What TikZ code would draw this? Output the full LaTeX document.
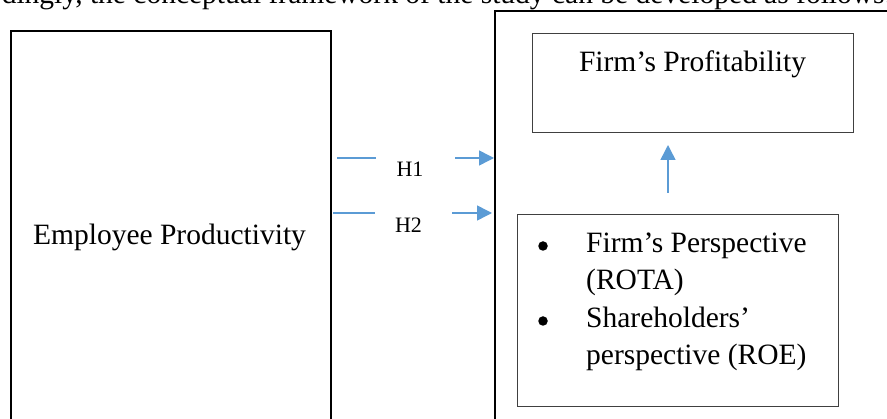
\documentclass[tikz,border=0pt]{standalone}
\usepackage{fontspec}
\setmainfont{Liberation Serif}
\usetikzlibrary{arrows.meta}
\definecolor{arrowblue}{RGB}{91,155,213}
\begin{document}
\begin{tikzpicture}[x=1pt,y=-1pt,
  thickbox/.style={draw=black, line width=2pt, inner sep=0pt},
  thinbox/.style={draw=black!75, line width=1.4pt, inner sep=0pt},
  bigtext/.style={font=\fontsize{29.5}{36}\selectfont, inner sep=0pt},
  hlabel/.style={font=\fontsize{22}{26}\selectfont, inner sep=0pt},
  bulletdot/.style={circle, fill=black, inner sep=0pt, minimum size=9.5pt},
  blueline/.style={draw=arrowblue, line width=1.5pt},
  bluearrow/.style={blueline, -{Triangle[length=15pt,width=15pt]}}]
\useasboundingbox (0,0) rectangle (887,419);
\clip (0,0) rectangle (887,419);
% cut-off sentence above the figure
\node[bigtext, anchor=base east] (intro) at (893,4) {Accordingly, the conceptual framework of the study can be developed as follows:};
% left box
\node[thickbox, minimum width=320pt, minimum height=430pt, anchor=north west] (ep) at (10,30) {};
\node[bigtext, anchor=base] (eptext) at (169.5,245) {Employee Productivity};
% big right box
\node[thickbox, minimum width=450pt, minimum height=450pt, anchor=north west] (fp) at (494,10) {};
% profitability box
\node[thinbox, minimum width=321pt, minimum height=99pt, anchor=north west] (prof) at (532,33) {};
\node[bigtext, anchor=base] (proftext) at (692.5,72) {Firm’s Profitability};
% perspectives box
\node[thinbox, minimum width=321pt, minimum height=192pt, anchor=north west] (persp) at (517,214) {};
\node[bulletdot] (b1) at (543,246) {};
\node[bulletdot] (b2) at (543,321) {};
\node[bigtext, anchor=base west] (p1) at (586,253) {Firm’s Perspective};
\node[bigtext, anchor=base west] (p2) at (586,290) {(ROTA)};
\node[bigtext, anchor=base west] (p3) at (586,328) {Shareholders’};
\node[bigtext, anchor=base west] (p4) at (586,365) {perspective (ROE)};
% up arrow
\coordinate (ua) at (668,193);
\coordinate (ub) at (668,145);
\draw[bluearrow] (ua) -- (ub);
% H1
\coordinate (h1a) at (337,158);
\coordinate (h1b) at (376,158);
\coordinate (h1c) at (455,158);
\coordinate (h1d) at (494,158);
\draw[blueline] (h1a) -- (h1b);
\draw[bluearrow] (h1c) -- (h1d);
\node[hlabel, anchor=base] (h1) at (410,177) {H1};
% H2
\coordinate (h2a) at (333,213);
\coordinate (h2b) at (375,213);
\coordinate (h2c) at (452,213);
\coordinate (h2d) at (492,213);
\draw[blueline] (h2a) -- (h2b);
\draw[bluearrow] (h2c) -- (h2d);
\node[hlabel, anchor=base] (h2) at (408.5,233) {H2};
\end{tikzpicture}
\end{document}
